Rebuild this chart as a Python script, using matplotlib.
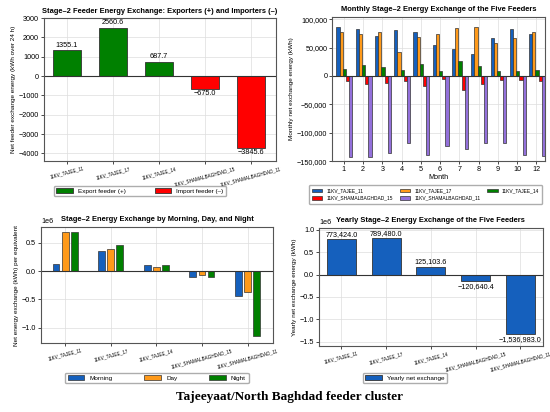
import numpy as np
import matplotlib
matplotlib.use("Agg")
import matplotlib.pyplot as plt
from matplotlib.ticker import FuncFormatter

plt.rcParams['font.family'] = ['Liberation Sans', 'DejaVu Sans']
plt.rcParams['axes.unicode_minus'] = True

# feeders
feeders = ["11KV_TAJEE_11", "11KV_TAJEE_17", "11KV_TAJEE_14",
           "11KV_SHAMALBAGHDAD_15", "11KV_SHAMALBAGHDAD_11"]

# panel 1: daily net exchange (kWh over 24 h)
daily_heights = [1340, 2500, 740, -660, -3700]
daily_labels = ["1355.1", "2560.6", "687.7", "\u2212675.0", "\u22123845.6"]

# panel 2: monthly exchange (kWh)
months = ["1", "2", "3", "4", "5", "6", "7", "8", "9", "10", "12"]
m_tajee11 = [86000, 82000, 71000, 81000, 77000, 55000, 48000, 38000, 66000, 82000, 74000]
m_tajee17 = [77000, 74000, 77000, 42000, 68000, 74000, 85000, 86000, 58000, 66000, 78000]
m_tajee14 = [12000, 19000, 15000, 11000, 21000, 9000, 26000, 17000, 9000, 9000, 11000]
m_sb15 = [-9000, -15000, -12000, -9000, -18000, -6000, -24000, -15000, -7000, -7000, -9000]
m_sb11 = [-143000, -143000, -136000, -119000, -139000, -124000, -129000, -119000, -119000, -139000, -141000]

# panel 3: morning / day / night (kWh per equivalent)
morning = [0.12e6, 0.35e6, 0.11e6, -0.10e6, -0.44e6]
day = [0.70e6, 0.40e6, 0.07e6, -0.07e6, -0.36e6]
night = [0.70e6, 0.46e6, 0.11e6, -0.10e6, -1.15e6]

# panel 4: yearly (kWh)
yearly_heights = [0.795e6, 0.81e6, 0.17e6, -0.15e6, -1.34e6]
yearly_labels = ["773,424.0", "789,480.0", "125,103.6", "\u2212120,640.4", "\u22121,536,983.0"]

blue = "#1560bd"
orange = "#ff9a1a"
green = "#008000"
red = "#ff0000"
purple = "#9370db"

fs = 5.2      # tick labels
fl = 4.6      # axis labels
ft = 5.4      # titles
fx = 3.3      # rotated feeder names
fig = plt.figure(figsize=(5.5, 4.12), dpi=100)

ax1 = fig.add_axes([0.08, 0.609, 0.422, 0.347])
ax2 = fig.add_axes([0.604, 0.609, 0.387, 0.35])
ax3 = fig.add_axes([0.0745, 0.1675, 0.422, 0.2815])
ax4 = fig.add_axes([0.58, 0.160, 0.407, 0.2866])

for ax in (ax1, ax2, ax3, ax4):
    ax.grid(True, color="#dddddd", linewidth=0.5)
    ax.set_axisbelow(True)
    ax.axhline(0, color="#333333", linewidth=0.8)
    ax.tick_params(labelsize=fs, length=2, width=0.5, pad=1.5)
    for s in ax.spines.values():
        s.set_color("#555555")
        s.set_linewidth(0.8)

# panel 1
x = np.arange(len(feeders))
colors1 = [green if v > 0 else red for v in daily_heights]
b1 = ax1.bar(x, daily_heights, width=0.6, color=colors1, edgecolor="#333333", linewidth=0.6)
ax1.bar_label(b1, labels=daily_labels, fontsize=fs, padding=1)
ax1.set_ylim(-4400, 3000)
ax1.set_xlim(-0.5, 4.55)
ax1.set_xticks(x)
ax1.set_xticklabels(feeders, rotation=15, fontsize=fx, ha="center")
ax1.set_ylabel("Net feeder exchange energy (kWh over 24 h)", fontsize=fl, labelpad=2)
ax1.set_title("Stage\u20132 Feeder Energy Exchange: Exporters (+) and Importers (\u2013)",
              fontsize=ft, fontweight="bold", pad=4)
h_exp = plt.Rectangle((0, 0), 1, 1, facecolor=green, edgecolor="#333333", linewidth=0.6)
h_imp = plt.Rectangle((0, 0), 1, 1, facecolor=red, edgecolor="#333333", linewidth=0.6)
fig.legend([h_exp, h_imp], ["Export feeder (+)", "Import feeder (\u2013)"], ncol=2,
           loc="center", bbox_to_anchor=(0.2545, 0.536), fontsize=fl,
           frameon=True, edgecolor="#999999", handlelength=2.6, columnspacing=4.5)

# panel 2
xm = np.arange(len(months))
w = 0.165
series = [m_tajee11, m_tajee17, m_tajee14, m_sb15, m_sb11]
cols = [blue, orange, green, red, purple]
for i, (vals, c, name) in enumerate(zip(series, cols, feeders)):
    ax2.bar(xm + (i - 1.8) * w, vals, width=w, color=c, edgecolor="#333333",
            linewidth=0.5, label=name)
ax2.set_xticks(xm)
ax2.set_xticklabels(months)
ax2.set_xlim(-0.6, 10.45)
ax2.set_ylim(-150000, 104000)
ax2.set_yticks([-150000, -100000, -50000, 0, 50000, 100000])
ax2.yaxis.set_major_formatter(FuncFormatter(lambda v, p: f"{v:,.0f}".replace("-", "\u2212")))
ax2.set_xlabel("Month", fontsize=fs, labelpad=1)
ax2.set_ylabel("Monthly net exchange energy (kWh)", fontsize=fl, labelpad=2)
ax2.set_title("Monthly Stage\u20132 Energy Exchange of the Five Feeders",
              fontsize=ft, fontweight="bold", pad=4)
h2, l2 = ax2.get_legend_handles_labels()
order = [0, 3, 1, 4, 2]   # fill the legend row by row
fig.legend([h2[k] for k in order], [l2[k] for k in order], ncol=3, loc="center right",
           bbox_to_anchor=(0.99, 0.528), fontsize=3.5, frameon=True, edgecolor="#999999",
           handlelength=2.2, columnspacing=1.4, borderpad=0.6)

# panel 3
w3 = 0.15
ax3.bar(x - 0.2, morning, width=w3, color=blue, edgecolor="#333333", linewidth=0.5, label="Morning")
ax3.bar(x, day, width=w3, color=orange, edgecolor="#333333", linewidth=0.5, label="Day")
ax3.bar(x + 0.2, night, width=w3, color=green, edgecolor="#333333", linewidth=0.5, label="Night")
ax3.set_ylim(-1.27e6, 0.78e6)
ax3.set_xlim(-0.53, 4.56)
ax3.set_xticks(x)
ax3.set_xticklabels(feeders, rotation=15, fontsize=fx, ha="center")
ax3.yaxis.get_offset_text().set_fontsize(fs)
ax3.set_ylabel("Net energy exchange (kWh) per equivalent", fontsize=fl, labelpad=2)
ax3.set_title("Stage\u20132 Energy Exchange by Morning, Day, and Night",
              fontsize=ft, fontweight="bold", pad=4)
h3, l3 = ax3.get_legend_handles_labels()
fig.legend(h3, l3, ncol=3, loc="center", bbox_to_anchor=(0.285, 0.083), fontsize=fl,
           frameon=True, edgecolor="#999999", handlelength=2.6, columnspacing=5)

# panel 4
b4 = ax4.bar(x, yearly_heights, width=0.65, color=blue, edgecolor="#333333",
             linewidth=0.6, label="Yearly net exchange")
ax4.bar_label(b4, labels=yearly_labels, fontsize=fs, padding=1)
ax4.set_ylim(-1.6e6, 1.04e6)
ax4.set_xlim(-0.5, 4.5)
ax4.set_xticks(x)
ax4.set_xticklabels(feeders, rotation=15, fontsize=fx, ha="center")
ax4.yaxis.get_offset_text().set_fontsize(fs)
ax4.set_ylabel("Yearly net exchange energy (kWh)", fontsize=fl, labelpad=2)
ax4.set_title("Yearly Stage\u20132 Energy Exchange of the Five Feeders",
              fontsize=ft, fontweight="bold", pad=4)
h4, l4 = ax4.get_legend_handles_labels()
fig.legend(h4, l4, loc="center", bbox_to_anchor=(0.736, 0.083), fontsize=fl,
           frameon=True, edgecolor="#999999", handlelength=2.6)

fig.text(0.527, 0.036, "Tajeeyaat/North Baghdad feeder cluster", ha="center", va="center",
         fontsize=9.5, fontweight="bold", family=["Liberation Serif", "DejaVu Serif"])

fig.savefig("out.png", dpi=100)
